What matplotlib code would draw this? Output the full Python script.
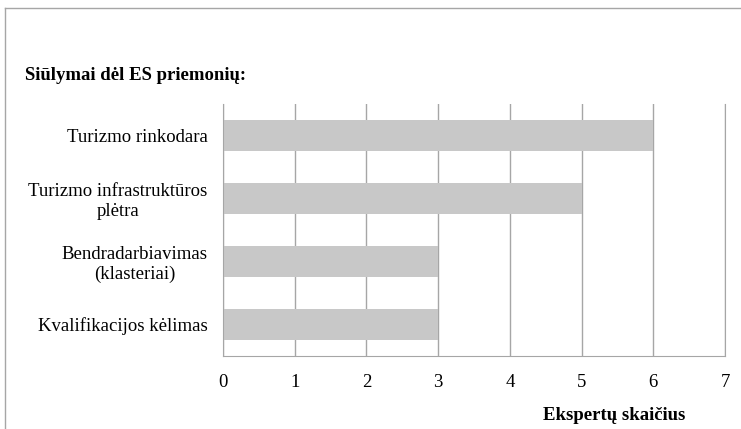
import matplotlib.pyplot as plt
from matplotlib.lines import Line2D

categories = ["Kvalifikacijos kėlimas", "Bendradarbiavimas\n(klasteriai)",
              "Turizmo infrastruktūros\nplėtra", "Turizmo rinkodara"]
values = [3, 3, 5, 6]
xticks = [0, 1, 2, 3, 4, 5, 6, 7]

plt.rcParams['font.family'] = ['Liberation Serif', 'DejaVu Serif']

fig = plt.figure(figsize=(7.41, 4.29), dpi=100)
ax = fig.add_axes([223 / 741, 1 - 356 / 429, (725 - 223) / 741, (356 - 104) / 429])

ax.barh(range(len(categories)), values, height=0.48, color='#c8c8c8', zorder=2)
ax.set_xlim(0, 7)
ax.set_ylim(-0.5, len(categories) - 0.5)
ax.set_xticks(xticks)
ax.set_yticks(range(len(categories)))
ax.set_yticklabels(categories, ha='right', multialignment='center', fontsize=13.5)
ax.tick_params(axis='y', length=0, pad=11)
ax.tick_params(axis='x', length=0, pad=13, labelsize=13.5)
ax.xaxis.grid(True, color='#a6a6a6', linewidth=1, zorder=1)
ax.spines['top'].set_visible(False)
for s in ['left', 'bottom', 'right']:
    ax.spines[s].set_color('#a6a6a6')

fig.text(25 / 741, 1 - 75 / 429, "Siūlymai dėl ES priemonių:", fontsize=13.5,
         fontweight='bold', va='center', ha='left')
fig.text(614 / 741, 1 - 415 / 429, "Ekspertų skaičius", fontsize=13.5,
         fontweight='bold', va='center', ha='center')

# outer frame (top and left only visible)
fig.add_artist(Line2D([5 / 741, 5 / 741], [0, 1 - 8 / 429], color='#a6a6a6', lw=1))
fig.add_artist(Line2D([5 / 741, 1], [1 - 8 / 429, 1 - 8 / 429], color='#a6a6a6', lw=1))

fig.savefig('out.png', dpi=100)
